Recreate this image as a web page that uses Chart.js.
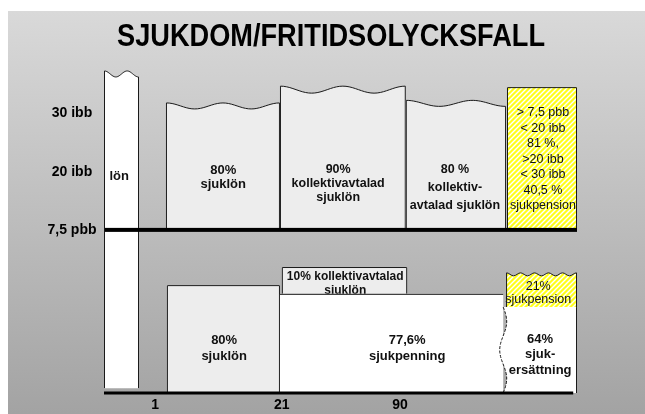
<!DOCTYPE html>
<html>
<head>
<meta charset="utf-8">
<script src="https://cdn.jsdelivr.net/npm/chart.js@4.4.1/dist/chart.umd.min.js"></script>
<style>
html,body{margin:0;padding:0;background:#fff;}
canvas{display:block;}
</style>
</head>
<body>
<canvas id="c" width="645" height="414"></canvas>
<script>
// ---------- DATA ----------
const chartTitle = 'SJUKDOM/FRITIDSOLYCKSFALL';
// x axis: tick positions (scale units) and their labels (days)
const xTickValues = [10.8, 37.6, 62.6];
const xTickLabels = ['1', '21', '90'];
// y axis: income levels
const yTickValues = [86.7, 68.4, 50.5];
const yTickLabels = ['30 ibb', '20 ibb', '7,5 pbb'];
const thresholdLevel = 50.5; // 7,5 pbb line
// boxes (blocks of compensation), in scale units
const boxX0 = [0,    13.1, 37.2, 63.8, 85.2, 13.3, 37.6, 37.2, 85.0, 84.4];
const boxX1 = [7.4,  37.2, 63.8, 85.0, 100,  37.2, 64.1, 84.4, 100,  100];
const boxY0 = [1.5,  50.5, 50.5, 50.5, 50.5, 0,    30.7, 0,    26.6, 0];
const boxY1 = [99.7, 89.8, 95.0, 90.6, 94.7, 33.4, 39.0, 30.7, 37.2, 26.6];
const boxLabels = [
  ['lön'],
  ['80%', 'sjuklön'],
  ['90%', 'kollektivavtalad', 'sjuklön'],
  ['80 %', 'kollektiv-', 'avtalad sjuklön'],
  ['> 7,5 pbb', '< 20 ibb', '81 %,', '>20 ibb', '< 30 ibb', '40,5 %', 'sjukpension'],
  ['80%', 'sjuklön'],
  ['10% kollektivavtalad', 'sjuklön'],
  ['77,6%', 'sjukpenning'],
  ['21%', 'sjukpension'],
  ['64%', 'sjuk-', 'ersättning']
];

// ---------- STYLE / LAYOUT ----------
const boxStyle = [
  {fill:'white', wave:'top', amp:3,   waves:1.5, sides:true},
  {fill:'gray',  wave:'top', amp:3,   waves:2,   sides:true},
  {fill:'gray',  wave:'top', amp:3.5, waves:2,   sides:true},
  {fill:'gray',  wave:'top', amp:3,   waves:1.5, sides:true},
  {fill:'hatch', wave:null,  sides:true, top:true},
  {fill:'gray',  wave:null,  sides:true, top:true},
  {fill:'gray',  wave:null,  sides:true, top:true},
  {fill:'white', wave:null,  sides:false, top:true},
  {fill:'hatch', wave:'top', amp:1.5, waves:5, sides:true},
  {fill:'white', wave:'left', amp:3.5, waves:1.5, sides:true}
];
const labelLayout = [ // [x, y, line spacing px, font px, weight]
  [3.2, 67.2, 14, 13, 'bold'],
  [25.2, 66.7, 14, 13, 'bold'],
  [49.5, 64.7, 14, 12.5, 'bold'],
  [74.2, 63.6, 18, 12.5, 'bold'],
  [92.8, 72.3, 15.5, 12.5, 'normal'],
  [25.4, 13.9, 16, 13, 'bold'],
  [51.0, 33.7, 14, 12, 'bold'],
  [64.1, 13.9, 16, 13, 'bold'],
  [91.8, 31.1, 13, 12.5, 'normal'],
  [92.2, 11.9, 15.5, 13, 'bold']
];
const FONT = '"Liberation Sans", Arial, sans-serif';

function makeHatch() {
  const c = document.createElement('canvas');
  c.width = 5; c.height = 5;
  const g = c.getContext('2d');
  g.fillStyle = '#ffff1a';
  g.fillRect(0, 0, 5, 5);
  g.strokeStyle = '#ffffff';
  g.lineWidth = 1.4;
  g.beginPath();
  g.moveTo(-1, 6); g.lineTo(6, -1);
  g.moveTo(-4, 4); g.lineTo(4, -4);
  g.moveTo(1, 9); g.lineTo(9, 1);
  g.stroke();
  return c;
}

const bgPlugin = {
  id: 'bg',
  beforeDraw(chart) {
    const ctx = chart.ctx;
    ctx.save();
    ctx.fillStyle = '#ffffff';
    ctx.fillRect(0, 0, chart.width, chart.height);
    const gr = ctx.createLinearGradient(0, 11, 0, chart.height);
    gr.addColorStop(0, '#d9d9d9');
    gr.addColorStop(1, '#a3a3a3');
    ctx.fillStyle = gr;
    ctx.fillRect(8, 11, chart.width - 8, chart.height - 11);
    ctx.restore();
  }
};

function wavyTopPath(ctx, x0, x1, yTop, amp, waves) {
  const n = 40;
  for (let i = 0; i <= n; i++) {
    const t = i / n;
    const x = x0 + (x1 - x0) * t;
    const y = yTop + amp - amp * Math.cos(2 * Math.PI * waves * t);
    ctx.lineTo(x, y);
  }
}

const boxPlugin = {
  id: 'boxes',
  afterDatasetsDraw(chart) {
    const ctx = chart.ctx;
    const xs = chart.scales.x, ys = chart.scales.y;
    const hatch = ctx.createPattern(makeHatch(), 'repeat');
    ctx.save();
    chart.data.datasets.forEach((ds, i) => {
      const st = boxStyle[i];
      const L = xs.getPixelForValue(ds.data[0].x);
      const R = xs.getPixelForValue(ds.data[1].x);
      const B = ys.getPixelForValue(ds.data[0].y);
      const T = ys.getPixelForValue(ds.data[1].y);
      ctx.fillStyle = st.fill === 'gray' ? '#ededed' : (st.fill === 'hatch' ? hatch : '#ffffff');
      ctx.beginPath();
      if (st.wave === 'top') {
        ctx.moveTo(L, B);
        ctx.lineTo(L, T);
        wavyTopPath(ctx, L, R, T, st.amp, st.waves);
        ctx.lineTo(R, B);
      } else if (st.wave === 'left') {
        ctx.moveTo(R, B);
        ctx.lineTo(R, T);
        ctx.lineTo(L, T);
        const n = 40;
        for (let k = 0; k <= n; k++) {
          const t = k / n;
          ctx.lineTo(L + st.amp * Math.sin(2 * Math.PI * st.waves * t), T + (B - T) * t);
        }
      } else {
        ctx.rect(L, T, R - L, B - T);
      }
      ctx.closePath();
      ctx.fill();
      ctx.strokeStyle = '#1a1a1a';
      ctx.lineWidth = 1;
      if (st.wave === 'top') {
        ctx.beginPath();
        ctx.moveTo(L + 0.5, B);
        ctx.lineTo(L + 0.5, T);
        wavyTopPath(ctx, L + 0.5, R - 0.5, T, st.amp, st.waves);
        ctx.lineTo(R - 0.5, B);
        ctx.stroke();
      } else if (st.wave === 'left') {
        ctx.beginPath();
        ctx.moveTo(R - 0.5, B);
        ctx.lineTo(R - 0.5, T);
        ctx.stroke();
        ctx.setLineDash([3, 1.5]);
        ctx.beginPath();
        const n = 40;
        for (let k = 0; k <= n; k++) {
          const t = k / n;
          const xx = L + st.amp * Math.sin(2 * Math.PI * st.waves * t);
          const yy = T + (B - T) * t;
          if (k === 0) ctx.moveTo(xx, yy); else ctx.lineTo(xx, yy);
        }
        ctx.stroke();
        ctx.setLineDash([]);
      } else {
        ctx.beginPath();
        if (st.sides) {
          ctx.moveTo(L + 0.5, B); ctx.lineTo(L + 0.5, T + 0.5);
          ctx.lineTo(R - 0.5, T + 0.5); ctx.lineTo(R - 0.5, B);
        } else {
          ctx.moveTo(L, T + 0.5); ctx.lineTo(R, T + 0.5);
        }
        ctx.stroke();
      }
      const lay = labelLayout[i];
      const lines = boxLabels[i];
      const cx = xs.getPixelForValue(lay[0]);
      const cy = ys.getPixelForValue(lay[1]);
      ctx.fillStyle = '#111111';
      ctx.font = lay[4] + ' ' + lay[3] + 'px ' + FONT;
      ctx.textAlign = 'center';
      ctx.textBaseline = 'middle';
      const start = cy - (lines.length - 1) * lay[2] / 2;
      lines.forEach((ln, j) => ctx.fillText(ln, cx, start + j * lay[2]));
    });
    const ty = ys.getPixelForValue(thresholdLevel);
    ctx.fillStyle = '#000';
    ctx.fillRect(xs.getPixelForValue(0.2), ty - 2, xs.getPixelForValue(100) - xs.getPixelForValue(0.2), 4);
    const by = ys.getPixelForValue(0);
    ctx.fillRect(xs.getPixelForValue(0), by - 1.5, xs.getPixelForValue(99.2) - xs.getPixelForValue(0), 3);
    ctx.font = 'bold 14px ' + FONT;
    ctx.textAlign = 'center';
    ctx.textBaseline = 'middle';
    xTickValues.forEach((v, i) => ctx.fillText(xTickLabels[i], xs.getPixelForValue(v), by + 12));
    yTickValues.forEach((v, i) => ctx.fillText(yTickLabels[i], 72, ys.getPixelForValue(v)));
    ctx.font = 'bold 32px ' + FONT;
    ctx.textBaseline = 'alphabetic';
    const w = ctx.measureText(chartTitle).width;
    const target = 428;
    ctx.translate(331, 46);
    ctx.scale(target / w, 1);
    ctx.fillText(chartTitle, 0, 0);
    ctx.restore();
  }
};

const datasets = boxX0.map((x0, i) => ({
  label: boxLabels[i].join(' '),
  data: [{x: x0, y: boxY0[i]}, {x: boxX1[i], y: boxY1[i]}],
  pointRadius: 0,
  showLine: false
}));

new Chart(document.getElementById('c'), {
  type: 'scatter',
  data: { datasets },
  options: {
    responsive: false,
    animation: false,
    devicePixelRatio: 1,
    layout: { padding: { left: 104, right: 68, top: 70, bottom: 21 } },
    scales: {
      x: { type: 'linear', min: 0, max: 100, display: false },
      y: { type: 'linear', min: 0, max: 100, display: false }
    },
    plugins: { legend: { display: false }, tooltip: { enabled: false }, title: { display: false } }
  },
  plugins: [bgPlugin, boxPlugin]
});
</script>
</body>
</html>
